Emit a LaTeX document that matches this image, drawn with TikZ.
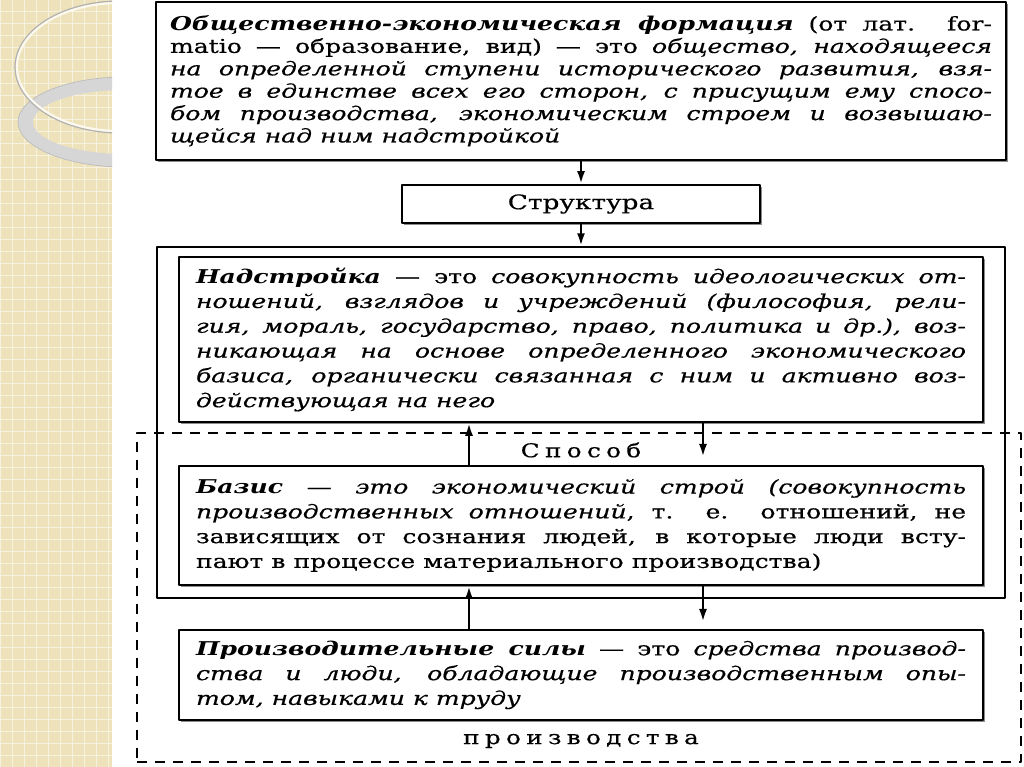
\documentclass[tikz,border=0pt]{standalone}
\usepackage{fontspec}
\setmainfont{DejaVu Serif}[FakeStretch=1.32,UprightFeatures={FakeBold=0.5},ItalicFeatures={FakeBold=0.5}]
\newfontfamily\spacedfont{DejaVu Serif}[FakeStretch=1.3,FakeBold=0.5,LetterSpace=28]
\usetikzlibrary{arrows.meta,shadows}
\definecolor{stripbeige}{RGB}{238,226,186}
\tolerance=10000
\hyphenpenalty=10000
\begin{document}
\begin{tikzpicture}[x=1pt,y=1pt,line join=round,
  frame/.style={draw,line width=1.6pt,fill=white,
    drop shadow={shadow xshift=2pt,shadow yshift=-2pt,fill=black!45,opacity=1}},
  defbox/.style={frame,align=justify,text width=770pt,inner xsep=17pt,inner ysep=0pt,
    minimum width=804pt,font=\fontsize{19}{24.8}\selectfont},
  caption/.style={font=\spacedfont\fontsize{19}{22}\selectfont,inner sep=1pt},
  arr/.style={line width=2.8pt,-{Latex[length=13pt,width=8pt]}}]
  \useasboundingbox (0,0) rectangle (1024,767);
  \fill[white] (0,0) rectangle (1024,767);
  \fill[stripbeige] (0,0) rectangle (112,767);
  \draw[white!55!stripbeige,line width=0.7pt,step=12] (0,0) grid (112,767);
  \begin{scope}
    \clip (0,0) rectangle (112,767);
    \fill[gray!32,even odd rule] (125,645) ellipse[x radius=107,y radius=45]
      (125,645) ellipse[x radius=92,y radius=32];
    \draw[gray!50,line width=0.8pt] (125,645) ellipse[x radius=107,y radius=45];
    \begin{scope}
      \clip (120,700) ellipse[x radius=103,y radius=64];
      \fill[white,opacity=0.35] (10,712) .. controls (40,745) and (70,762) .. (95,767) -- (10,767) -- cycle;
    \end{scope}
    \draw[gray!60,line width=1.2pt] (120,700) ellipse[x radius=105,y radius=66];
    \draw[white!80!stripbeige,line width=2pt] (120,700) ellipse[x radius=103,y radius=64];
  \end{scope}

  \coordinate (upx) at (469,0);
  \coordinate (downx) at (703,0);
  \coordinate (tipA) at (703,310);
  \coordinate (tipB) at (703,145);

  \node[draw,line width=1.5pt,dash pattern=on 10pt off 8pt,minimum width=884pt,minimum height=329pt] (mode) at (579,169.5) {};
  \node[draw,line width=1.4pt,minimum width=848pt,minimum height=351pt] (outer) at (581,344.5) {};

  \node[frame,align=justify,text width=822pt,inner xsep=14pt,inner ysep=0pt,minimum height=158pt,
    font=\fontsize{19}{22.4}\selectfont] (formation) at (581,686)
    {\textbf{\textit{Общественно-экономическая формация}} (от лат. for-\linebreak
     matio — образование, вид) — это \textit{общество, находящееся\linebreak
     на определенной ступени исторического развития, взя-\linebreak
     тое в единстве всех его сторон, с присущим ему спосо-\linebreak
     бом производства, экономическим строем и возвышаю-\linebreak
     щейся над ним надстройкой}};
  \node[frame,minimum width=358pt,minimum height=38pt,inner sep=0pt,
    font=\fontsize{20}{24}\selectfont] (structure) at (581,563) {Структура};

  \node[defbox,minimum height=165pt] (superstructure) at (581,427.5)
    {\textbf{\textit{Надстройка}} — это \textit{совокупность идеологических от-\linebreak
     ношений, взглядов и учреждений (философия, рели-\linebreak
     гия, мораль, государство, право, политика и др.), воз-\linebreak
     никающая на основе определенного экономического\linebreak
     базиса, органически связанная с ним и активно воз-\linebreak
     действующая на него}};
  \node[caption] (modelabel) at (581,317) {Способ};
  \node[defbox,minimum height=119pt] (basis) at (581,241.5)
    {\textbf{\textit{Базис}} \textit{— это экономический строй (совокупность\linebreak
     производственных отношений}, т. е. отношений, не\linebreak
     зависящих от сознания людей, в которые люди всту-\linebreak
     пают в процессе материального производства)};
  \node[defbox,minimum height=90pt] (forces) at (581,92)
    {\textbf{\textit{Производительные силы}} — это \textit{средства производ-\linebreak
     ства и люди, обладающие производственным опы-\linebreak
     том, навыками к труду}};
  \node[caption] (prodlabel) at (581,26) {производства};

  \draw[arr] (formation.south) -- (structure.north);
  \draw[arr] (structure.south) -- (outer.north);
  \draw[arr] (basis.north -| upx) -- (superstructure.south -| upx);
  \draw[arr] (superstructure.south -| downx) -- (tipA);
  \draw[arr] (forces.north -| upx) -- (basis.south -| upx);
  \draw[arr] (basis.south -| downx) -- (tipB);
\end{tikzpicture}
\end{document}
